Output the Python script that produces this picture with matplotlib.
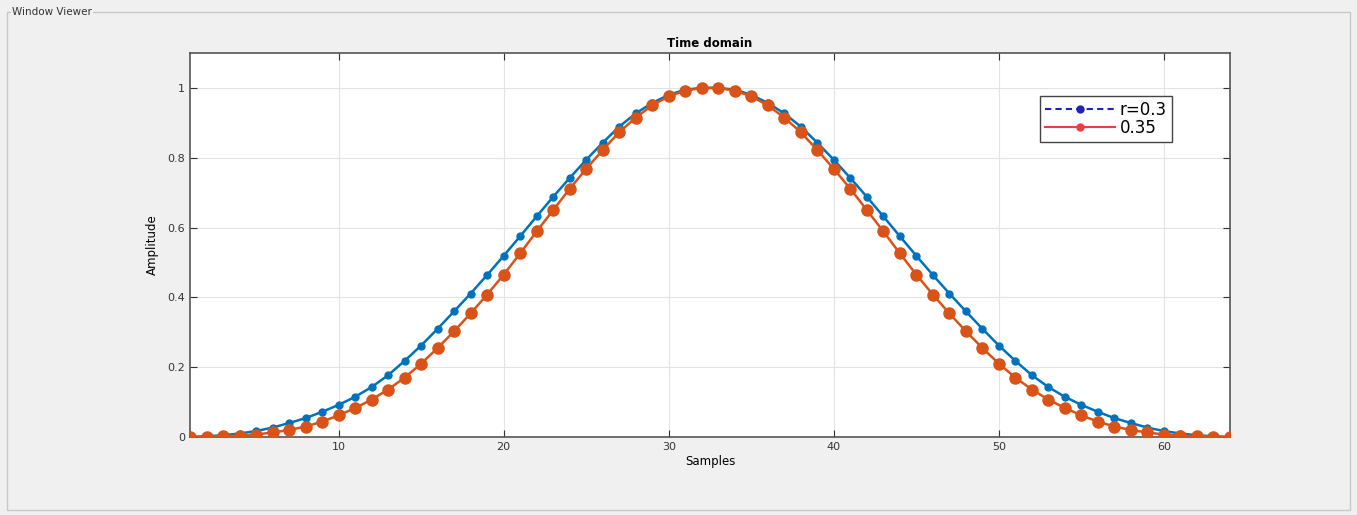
import matplotlib
matplotlib.use("Agg")
import matplotlib.pyplot as plt
from matplotlib.lines import Line2D
from matplotlib.patches import Rectangle
import numpy as np

# samples 1..64, values
samples = list(range(1, 65))
r030 = [0.000, 0.002, 0.005, 0.010, 0.017, 0.027, 0.040, 0.054, 0.072, 0.092,
        0.115, 0.143, 0.177, 0.218, 0.262, 0.310, 0.360, 0.411, 0.464, 0.519,
        0.575, 0.632, 0.688, 0.742, 0.794, 0.843, 0.889, 0.927, 0.957, 0.980,
        0.995, 1.000,
        1.000, 0.995, 0.980, 0.957, 0.927, 0.889, 0.843, 0.794, 0.742, 0.688,
        0.632, 0.575, 0.519, 0.464, 0.411, 0.360, 0.310, 0.262, 0.218, 0.177,
        0.143, 0.115, 0.092, 0.072, 0.054, 0.040, 0.027, 0.017, 0.010, 0.005,
        0.002, 0.000]
r035 = [0.000, 0.001, 0.002, 0.004, 0.007, 0.013, 0.020, 0.030, 0.044, 0.062,
        0.083, 0.107, 0.136, 0.170, 0.210, 0.255, 0.303, 0.354, 0.408, 0.465,
        0.526, 0.589, 0.650, 0.711, 0.768, 0.822, 0.873, 0.915, 0.950, 0.976,
        0.992, 1.000,
        1.000, 0.992, 0.976, 0.950, 0.915, 0.873, 0.822, 0.768, 0.711, 0.650,
        0.589, 0.526, 0.465, 0.408, 0.354, 0.303, 0.255, 0.210, 0.170, 0.136,
        0.107, 0.083, 0.062, 0.044, 0.030, 0.020, 0.013, 0.007, 0.004, 0.002,
        0.001, 0.000]
legend_labels = ["r=0.3", "0.35"]

blue = "#0072bd"
red = "#d95319"

fig = plt.figure(figsize=(13.57, 5.15), dpi=100)
fig.patch.set_facecolor("#f0f0f0")

# "Window Viewer" panel frame
fig.patches.append(Rectangle((7/1357, 5/515), 1343/1357, 498/515, transform=fig.transFigure,
                             fill=False, edgecolor="#c8c8c8", lw=1))
fig.text(12/1357, 1 - 12/515, "Window Viewer", fontsize=7.5, color="#333333",
         va="center", ha="left",
         bbox=dict(facecolor="#f0f0f0", edgecolor="none", pad=1))

ax = fig.add_axes([190/1357, 1 - 437/515, 1040/1357, 384/515])
ax.set_facecolor("white")
ax.plot(samples, r030, "-", color=blue, lw=1.8, marker="o", ms=5, zorder=2)
ax.plot(samples, r035, "-", color=red, lw=1.8, marker="o", ms=8, zorder=3)

ax.set_xlim(1, 64)
ax.set_ylim(0, 1.1)
ax.set_xticks([10, 20, 30, 40, 50, 60])
ax.set_yticks([0, 0.2, 0.4, 0.6, 0.8, 1])
ax.set_yticklabels(["0", "0.2", "0.4", "0.6", "0.8", "1"])
ax.grid(True, color="#e3e3e3", lw=0.8)
ax.set_axisbelow(True)
ax.tick_params(direction="in", top=True, right=True, labelsize=8,
               colors="#333333", length=5)
for s in ax.spines.values():
    s.set_color("#555555")
    s.set_linewidth(1.2)

ax.set_title("Time domain", fontsize=8.5, fontweight="bold", pad=4)
ax.set_xlabel("Samples", fontsize=8.5, labelpad=2)
ax.set_ylabel("Amplitude", fontsize=8.5, labelpad=6)

handles = [Line2D([], [], color="#2020c0", ls=(0, (3, 2)), marker="o", ms=5),
           Line2D([], [], color="#e84040", ls="-", marker="o", ms=5)]
leg = ax.legend(handles, legend_labels, loc="upper right",
                bbox_to_anchor=(0.944, 0.888), borderaxespad=0, fontsize=12,
                fancybox=False, framealpha=1, edgecolor="#444444",
                handlelength=4.2, handletextpad=0.3, borderpad=0.3,
                labelspacing=0.0)
leg.get_frame().set_linewidth(1.0)

fig.savefig("out.png", dpi=100, facecolor=fig.get_facecolor())
